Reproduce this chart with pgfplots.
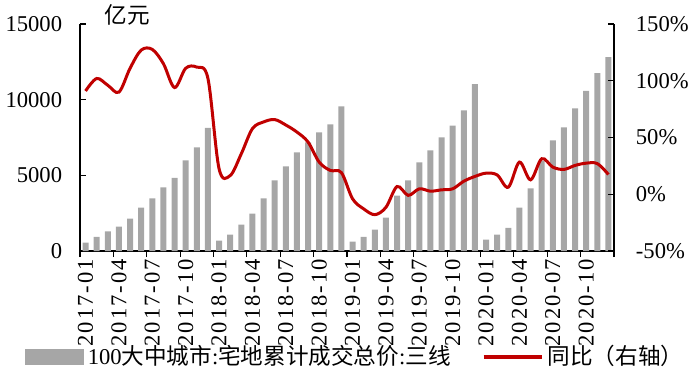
\documentclass[border=0pt]{standalone}
\usepackage{fontspec}
\setmainfont{Liberation Serif}
\newfontfamily\cjk{Noto Sans CJK SC}
\newfontfamily\spaced{Liberation Serif}[LetterSpace=9]
\usepackage{pgfplots}
\pgfplotsset{compat=1.18}
\definecolor{barc}{RGB}{166,166,166}
\definecolor{linec}{RGB}{192,0,0}
\begin{document}
\fontsize{11.3bp}{13bp}\selectfont
\begin{tikzpicture}
\useasboundingbox (-40bp,-66.5bp) rectangle (310bp,125.5bp);
\begin{axis}[
  at={(0,0)}, anchor=south west, scale only axis,
  width=267bp, height=113.5bp,
  xmin=-0.5, xmax=47.5, ymin=0, ymax=15000,
  axis x line*=bottom, axis y line*=left,
  axis line style={line width=0.6bp},
  every tick/.style={black, line width=0.6bp},
  major tick length=3bp,
  xtick align=outside, ytick align=inside,
  xtick={-0.5,2.5,...,47.5}, xticklabels={},
  extra x ticks={0,3,...,45},
  extra x tick labels={2017-01,2017-04,2017-07,2017-10,2018-01,2018-04,2018-07,2018-10,2019-01,2019-04,2019-07,2019-10,2020-01,2020-04,2020-07,2020-10},
  extra x tick style={major tick length=0pt, tick label style={rotate=90, anchor=east, font=\spaced\fontsize{11.3bp}{13bp}\selectfont}},
  ytick={0,5000,10000,15000},
  scaled y ticks=false,
  /pgf/number format/1000 sep={},
  /pgf/number format/assume math mode=true,
  yticklabel style={font=\fontsize{11.3bp}{13bp}\selectfont, xshift=-5bp},
  clip=false,
]
\addplot[ybar, bar width=3bp, fill=barc, draw=none] coordinates {
(0,550)(1,930)(2,1300)(3,1610)(4,2140)(5,2870)(6,3470)(7,4200)(8,4840)(9,5990)(10,6850)(11,8130)
(12,680)(13,1080)(14,1740)(15,2470)(16,3470)(17,4660)(18,5590)(19,6520)(20,7180)(21,7840)(22,8370)(23,9560)
(24,620)(25,930)(26,1410)(27,2210)(28,3660)(29,4660)(30,5850)(31,6650)(32,7510)(33,8280)(34,9300)(35,11020)
(36,750)(37,1080)(38,1520)(39,2870)(40,4130)(41,5950)(42,7310)(43,8170)(44,9430)(45,10580)(46,11750)(47,12810)
};
\node[anchor=west, font=\cjk\fontsize{11.3bp}{13bp}\selectfont] at (rel axis cs:0,1) [xshift=8.5bp, yshift=4.5bp] {亿元};
\end{axis}
\begin{axis}[
  at={(0,0)}, anchor=south west, scale only axis,
  width=267bp, height=113.5bp,
  xmin=-0.5, xmax=47.5, ymin=-50, ymax=150,
  axis y line*=right, axis x line=none,
  axis line style={line width=0.6bp},
  every tick/.style={black, line width=0.6bp},
  major tick length=3bp, ytick align=inside,
  ytick={-50,0,50,100,150},
  yticklabel={\pgfmathprintnumber{\tick}\%},
  /pgf/number format/assume math mode=true,
  yticklabel style={font=\fontsize{11.3bp}{13bp}\selectfont, xshift=7bp},
  legend columns=2,
  legend style={at={(-0.103,-0.467)}, anchor=west, draw=none, fill=none, inner sep=0pt, outer sep=0pt,
    font=\fontsize{11.3bp}{13bp}\selectfont,
    /tikz/every even column/.append style={column sep=13.5bp}},
]
\addlegendimage{legend image code/.code={\fill[barc] (0bp,-3.75bp) rectangle (29bp,3.75bp);}}
\addlegendentry{100{\cjk 大中城市}:{\cjk 宅地累计成交总价}:{\cjk 三线}}
\addplot[linec, line width=1.5bp, smooth, tension=0.55, legend image code/.code={\draw[linec, line width=2bp] (0bp,0bp) -- (29bp,0bp);}] coordinates {
(0,91)(1,102)(2,96)(3,90)(4,111)(5,127)(6,127.6)(7,115)(8,94)(9,111)(10,112)(11,102)
(12,22.5)(13,16.5)(14,35.7)(15,57.8)(16,63.7)(17,65.8)(18,61)(19,54.8)(20,46)(21,28.3)(22,21)(23,19)
(24,-4)(25,-12.9)(26,-18)(27,-11.5)(28,6.8)(29,-1)(30,4.8)(31,2.7)(32,3.9)(33,4.8)(34,11.5)(35,15.7)
(36,18.6)(37,17)(38,6.2)(39,28.3)(40,12.7)(41,31.3)(42,23.9)(43,21.9)(44,25.4)(45,27.4)(46,27)(47,17.4)
};
\addlegendentry{{\cjk 同比（右轴）}}
\end{axis}
\end{tikzpicture}
\end{document}
